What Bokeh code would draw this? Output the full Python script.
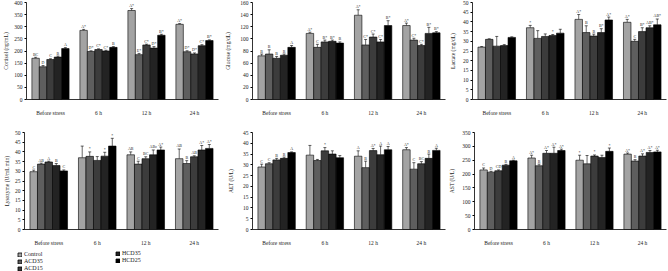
from bokeh.plotting import figure
from bokeh.models import (FactorRange, Range1d, Whisker, ColumnDataSource, Legend,
                          LegendItem, TeeHead, FixedTicker)
from bokeh.transform import dodge
from bokeh.layouts import column, row
from bokeh.embed import file_html
from bokeh.resources import INLINE
from bokeh.core.properties import value

groups = ["Before stress", "6 h", "12 h", "24 h"]
series = ["Control", "ACD35", "ACD15", "HCD35", "HCD25"]
colors = ["#a3a3a3", "#5e5e5e", "#3c3c3c", "#232323", "#000000"]

# values per series (Control, ACD35, ACD15, HCD35, HCD25) across groups
cortisol = [[170, 285, 367, 310], [135, 198, 185, 197], [165, 206, 225, 188],
            [175, 200, 212, 222], [210, 215, 265, 243]]
cortisol_err = [[4, 4, 8, 3], [5, 3, 5, 4], [3, 3, 3, 4], [4, 3, 6, 4], [4, 3, 4, 3]]
cortisol_sig = [["BC", "A*", "A*", "A*"], ["D", "D*", "E*", "D*"], ["C", "C*", "C*", "D*"],
                ["B", "C*", "D*", "C*"], ["A", "B", "B*", "B*"]]

glucose = [[72, 109, 139, 122], [75, 86, 90, 98], [68, 95, 103, 89],
           [73, 96, 95, 109], [86, 93, 122, 110]]
glucose_err = [[3, 2, 9, 4], [7, 5, 9, 3], [3, 3, 5, 2], [2, 2, 4, 10], [3, 2, 8, 2]]
glucose_sig = [["B", "A*", "A*", "A*"], ["B", "C", "C*", "C*"], ["B", "B*", "C*", "C*"],
               ["B", "B*", "C*", "B*"], ["A", "B", "B*", "B*"]]

lactate = [[27, 37, 41.3, 39.8], [31, 31.5, 34.5, 30], [27.5, 32.5, 32.7, 35],
           [27.8, 33, 34.5, 37], [32, 34.2, 41, 38.5]]
lactate_err = [[0.3, 1.2, 2.5, 1.5], [0.3, 4, 3.5, 1], [5, 1.3, 1, 2],
               [0.5, 0.5, 2, 1], [0.3, 2, 1.5, 3]]
lactate_sig = [["", "*", "A*", "A*"], ["", "", "B", "C"], ["", "", "B", "B*"],
               ["", "*", "B*", "AB*"], ["", "", "A*", "AB*"]]

lysozyme = [[29.8, 37, 38.5, 36.5], [33.7, 37.7, 33.7, 34], [34.8, 35.6, 36.5, 37.5],
            [33, 37.8, 38.5, 41], [30.2, 43, 41, 41.8]]
lysozyme_err = [[0.8, 6, 1.5, 5], [0.5, 2.3, 1.5, 1.5], [0.4, 2, 1, 0.5],
                [1, 2, 2.5, 2.3], [0.5, 4, 1.5, 2]]
lysozyme_sig = [["C", "", "AB", "AB"], ["AB", "*", "C", "B"], ["A", "", "BC", "AB"],
                ["B", "*", "ABc", "A*"], ["C", "*", "A*", "A*"]]

alt = [[29, 34.5, 34, 37], [30.5, 32, 28.7, 28], [32.3, 36.5, 36.6, 30.5],
       [33, 35, 34.7, 33], [35.7, 33.3, 37, 36.7]]
alt_err = [[1.3, 4.5, 2.5, 1], [0.5, 0.5, 3, 3], [0.7, 1.5, 1, 1],
           [0.6, 1.5, 4, 2], [0.3, 1, 1.5, 1]]
alt_sig = [["C", "", "A", "A*"], ["C", "", "B", "C"], ["B", "*", "A*", "BC"],
           ["B", "", "A", "B"], ["A", "", "A", "A"]]

ast = [[215, 258, 250, 272], [207, 230, 237, 247], [212, 275, 265, 265],
       [232, 275, 260, 278], [248, 285, 282, 280]]
ast_err = [[7, 10, 18, 4], [3, 6, 30, 5], [3, 10, 4, 8], [3, 22, 8, 7], [2, 5, 12, 6]]
ast_sig = [["C", "A*", "*", "A*"], ["D", "B", "", "B"], ["CD", "A*", "*", "A*"],
           ["B", "A*", "", "A*"], ["A", "A*", "*", "A*"]]

FONT = "Liberation Serif"
BAR_W = 0.155


def make_panel(means, errs, sigs, ylabel, yend, ystep, width, height,
               bl, br, bt, bb, lab_standoff):
    p = figure(x_range=FactorRange(factors=groups, range_padding=0),
               y_range=Range1d(0, yend), width=width, height=height,
               output_backend="svg", toolbar_location=None,
               min_border_left=bl, min_border_right=br,
               min_border_top=bt, min_border_bottom=bb)
    p.outline_line_color = None
    p.xgrid.visible = False
    p.ygrid.visible = False
    for i in range(len(series)):
        off = (i - 2) * BAR_W
        up = [m + e for m, e in zip(means[i], errs[i])]
        src = ColumnDataSource(dict(g=groups, m=means[i], u=up, sig=sigs[i]))
        xs = dodge("g", off, range=p.x_range)
        p.vbar(x=xs, top="m", width=BAR_W, fill_color=colors[i],
               line_color="black", line_width=0.6, source=src)
        w = Whisker(base=dodge("g", off, range=p.x_range), upper="u", lower="m",
                    source=src, line_color="black", line_width=0.6,
                    upper_head=TeeHead(size=3, line_color="black", line_width=0.6),
                    lower_head=None)
        p.add_layout(w)
        p.text(x=dodge("g", off, range=p.x_range), y="u", text="sig", source=src,
               text_font=value(FONT), text_font_size="4px", text_color="#222222",
               text_align="center", text_baseline="bottom", y_offset=-0.5)
    p.yaxis.ticker = FixedTicker(ticks=list(range(0, yend + 1, ystep)))
    p.yaxis.axis_label = ylabel
    p.yaxis.axis_label_text_font = FONT
    p.yaxis.axis_label_text_font_style = "normal"
    p.yaxis.axis_label_text_font_size = "5.5px"
    p.yaxis.axis_label_standoff = lab_standoff
    p.yaxis.major_label_text_font = FONT
    p.yaxis.major_label_text_font_size = "5.5px"
    p.yaxis.major_label_standoff = 2
    p.yaxis.major_tick_out = 2
    p.yaxis.major_tick_in = 0
    p.yaxis.minor_tick_line_color = None
    p.xaxis.major_tick_line_color = None
    p.xaxis.major_label_text_font = FONT
    p.xaxis.major_label_text_font_size = "5.5px"
    p.xaxis.major_label_standoff = 4
    p.axis.axis_line_color = "black"
    p.axis.axis_line_width = 0.8
    p.axis.major_label_text_color = "#222222"
    p.axis.axis_label_text_color = "#222222"
    return p


TOP_H, BOT_H = 118, 130
p1 = make_panel(cortisol, cortisol_err, cortisol_sig, "Cortisol (ng/mL)", 400, 50,
                222, TOP_H, 22, 4, 2, 14, 2)
p2 = make_panel(glucose, glucose_err, glucose_sig, "Glucose (mg/dL)", 160, 20,
                224, TOP_H, 30, 1, 2, 14, 6)
p3 = make_panel(lactate, lactate_err, lactate_sig, "Lactate (mg/dL)", 50, 5,
                222, TOP_H, 26, 2, 2, 14, 4)
p4 = make_panel(lysozyme, lysozyme_err, lysozyme_sig, "Lysozyme (U/mL min)", 50, 5,
                222, BOT_H, 22, 4, 14, 13, 2)
p5 = make_panel(alt, alt_err, alt_sig, "ALT (U/L)", 45, 5,
                224, BOT_H, 30, 1, 14, 13, 6)
p6 = make_panel(ast, ast_err, ast_sig, "AST (U/L)", 350, 50,
                222, BOT_H, 26, 2, 14, 13, 4)

# legend strip
lg = figure(width=668, height=23, x_range=Range1d(0, 1), y_range=Range1d(0, 1),
            output_backend="svg", toolbar_location=None, min_border=0)
lg.axis.visible = False
lg.xgrid.visible = False
lg.ygrid.visible = False
lg.outline_line_color = None
rends = []
for i in range(len(series)):
    # placed outside the visible range: only its legend swatch is seen
    r = lg.vbar(x=[5], top=[5], bottom=[4], width=0.1, fill_color=colors[i],
                line_color="black", line_width=0.8)
    rends.append(r)


def make_legend(idx, loc):
    return Legend(items=[LegendItem(label=series[k], renderers=[rends[k]]) for k in idx],
                  location=loc, orientation="vertical", glyph_width=5, glyph_height=5,
                  label_height=5, spacing=1, padding=0, margin=0,
                  border_line_color=None, background_fill_alpha=0,
                  label_text_font=FONT, label_text_font_size="6px",
                  label_text_color="#222222", label_standoff=2)


lg.add_layout(make_legend([0, 1, 2], (17, 0)))
lg.add_layout(make_legend([3, 4], (115, 8)))

layout = column(row(p1, p2, p3), row(p4, p5, p6), lg)
open("out.html", "w").write(file_html(layout, INLINE))
